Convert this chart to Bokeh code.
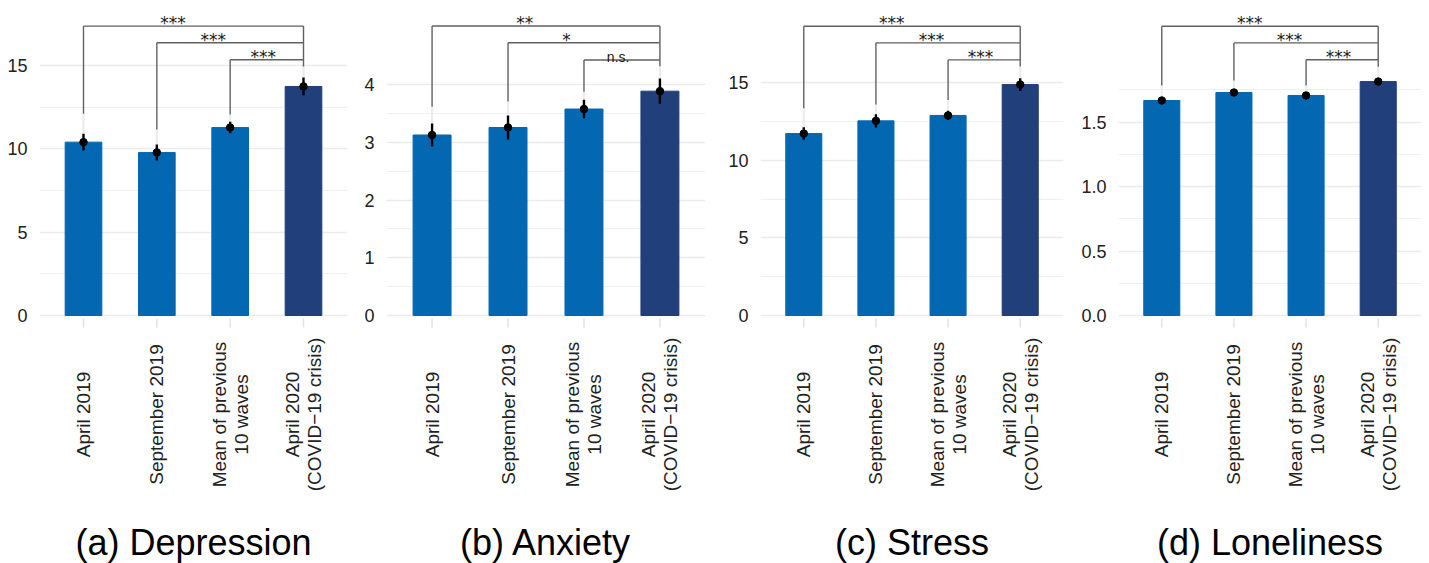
import numpy as np
from bokeh.plotting import figure
from bokeh.models import Range1d, FixedTicker, ColumnDataSource
from bokeh.layouts import row, column
from bokeh.embed import file_html
from bokeh.resources import INLINE
from bokeh.core.properties import value

# ---------------- data ----------------
categories = ["April 2019", "September 2019", "Mean of previous\n10 waves",
              "April 2020\n(COVID\u221219 crisis)"]
panel_titles = ["(a) Depression", "(b) Anxiety", "(c) Stress", "(d) Loneliness"]

dep_mean = [10.40, 9.78, 11.28, 13.74]
dep_ci = [0.50, 0.48, 0.35, 0.53]
anx_mean = [3.13, 3.26, 3.58, 3.89]
anx_ci = [0.20, 0.21, 0.16, 0.22]
str_mean = [11.73, 12.55, 12.90, 14.89]
str_ci = [0.40, 0.43, 0.30, 0.41]
lon_mean = [1.668, 1.730, 1.707, 1.815]
lon_ci = [0.010, 0.010, 0.008, 0.010]

# significance brackets: each compares bar i with the last bar
dep_sig = ["***", "***", "***"]
anx_sig = ["**", "*", "n.s."]
str_sig = ["***", "***", "***"]
lon_sig = ["***", "***", "***"]
dep_bracket = [17.36, 16.36, 15.34]
anx_bracket = [5.02, 4.73, 4.43]
str_bracket = [18.65, 17.58, 16.48]
lon_bracket = [2.244, 2.115, 1.984]
dep_tip = [12.10, 11.16, 12.06, 14.94]
anx_tip = [3.62, 3.71, 3.88, 4.32]
str_tip = [13.37, 13.60, 13.90, 16.05]
lon_tip = [1.784, 1.823, 1.784, 1.930]
sig_label_x = [2.22, 2.77, 3.45]

dep_ticks = [0, 5, 10, 15]
anx_ticks = [0, 1, 2, 3, 4]
str_ticks = [0, 5, 10, 15]
lon_ticks = [0.0, 0.5, 1.0, 1.5]
dep_tick_labels = ["0", "5", "10", "15"]
anx_tick_labels = ["0", "1", "2", "3", "4"]
str_tick_labels = ["0", "5", "10", "15"]
lon_tick_labels = ["0.0", "0.5", "1.0", "1.5"]
dep_minor = [2.5, 7.5, 12.5]
anx_minor = [0.5, 1.5, 2.5, 3.5]
str_minor = [2.5, 7.5, 12.5]
lon_minor = [0.25, 0.75, 1.25, 1.75]

# ---------------- styling ----------------
BAR_COLORS = ["#0368b1", "#0368b1", "#0368b1", "#213f7a"]
FONT = "Liberation Sans"
TEXT_COLOR = "#222222"

# pixel layout: zero line at y=315 px, frame from 0 to 330 px
ZERO_PX = 315
FRAME_H = 330
LOWER_H = 233
panels = [
    dict(mean=dep_mean, ci=dep_ci, sig=dep_sig, br=dep_bracket, tip=dep_tip,
         ticks=dep_ticks, tlabels=dep_tick_labels, minor=dep_minor,
         ppu=16.67, fw=308, bl=39, brd=11),
    dict(mean=anx_mean, ci=anx_ci, sig=anx_sig, br=anx_bracket, tip=anx_tip,
         ticks=anx_ticks, tlabels=anx_tick_labels, minor=anx_minor,
         ppu=57.67, fw=319, bl=28, brd=8),
    dict(mean=str_mean, ci=str_ci, sig=str_sig, br=str_bracket, tip=str_tip,
         ticks=str_ticks, tlabels=str_tick_labels, minor=str_minor,
         ppu=15.51, fw=303, bl=47, brd=7),
    dict(mean=lon_mean, ci=lon_ci, sig=lon_sig, br=lon_bracket, tip=lon_tip,
         ticks=lon_ticks, tlabels=lon_tick_labels, minor=lon_minor,
         ppu=128.9, fw=303, bl=48, brd=0),
]

tops, bottoms = [], []
for i, d in enumerate(panels):
    x = np.arange(1, len(categories) + 1)
    mean = np.array(d["mean"])
    ci = np.array(d["ci"])
    tip = np.array(d["tip"])
    brh = np.array(d["br"])
    ppu = d["ppu"]
    y_start = -(FRAME_H - ZERO_PX) / ppu
    y_end = ZERO_PX / ppu

    p = figure(frame_width=d["fw"], frame_height=FRAME_H,
               min_border_left=d["bl"], min_border_right=d["brd"],
               min_border_top=0, min_border_bottom=0,
               x_range=Range1d(0.4, 4.6), y_range=Range1d(y_start, y_end),
               x_axis_type=None,
               output_backend="svg", toolbar_location=None, tools="")
    p.outline_line_color = None
    p.background_fill_color = "white"
    p.border_fill_color = "white"
    p.ygrid.grid_line_color = "#ebebeb"
    p.ygrid.grid_line_width = 1.6
    p.ygrid.minor_grid_line_color = "#f0f0f0"
    p.ygrid.minor_grid_line_width = 1.1

    p.yaxis.ticker = FixedTicker(ticks=d["ticks"], minor_ticks=d["minor"])
    p.yaxis.major_label_overrides = {float(t): l for t, l in zip(d["ticks"], d["tlabels"])}
    p.yaxis.major_tick_line_color = None
    p.yaxis.minor_tick_line_color = None
    p.yaxis.axis_line_color = None
    p.yaxis.major_label_text_font_size = "18px"
    p.yaxis.major_label_text_font = FONT
    p.yaxis.major_label_text_color = TEXT_COLOR
    p.yaxis.major_label_standoff = 6

    # x tick marks (3 px to 12 px below the zero line)
    p.segment(x0=x, y0=[-3 / ppu] * len(x), x1=x, y1=[-12 / ppu] * len(x),
              line_color="#e3e3e3", line_width=1.5)

    # bars
    p.vbar(x=x, width=0.5, bottom=0, top=mean, color=BAR_COLORS)
    # light connector between bracket tips and error bars
    p.segment(x0=x, y0=tip, x1=x, y1=mean + ci, line_color="#ececec", line_width=2.2)
    # error bars and points
    p.segment(x0=x, y0=mean - ci, x1=x, y1=mean + ci, line_color="black", line_width=2.4)
    p.scatter(x=x, y=mean, size=7.5, color="black")

    # brackets
    left = x[:3]
    last = x[-1]
    p.segment(x0=left, y0=brh, x1=[last] * 3, y1=brh, line_color="#616161", line_width=1.4)
    p.segment(x0=left, y0=brh, x1=left, y1=tip[:3], line_color="#616161", line_width=1.4)
    p.segment(x0=[last], y0=[brh.max()], x1=[last], y1=[tip[-1]], line_color="#616161", line_width=1.4)

    fonts = ["DejaVu Sans" if set(s) == {"*"} else FONT for s in d["sig"]]
    sizes = ["17px" if set(s) == {"*"} else "14px" for s in d["sig"]]
    src = ColumnDataSource(dict(x=sig_label_x, y=list(brh), text=d["sig"], font=fonts, size=sizes))
    p.text(x="x", y="y", text="text", source=src, text_font="font", text_font_size="size",
           text_align="center", text_baseline="alphabetic", y_offset=-3, text_color="#1a1a1a")

    # lower area: rotated category labels and panel caption
    q = figure(frame_width=d["fw"], frame_height=LOWER_H,
               min_border_left=d["bl"], min_border_right=d["brd"],
               min_border_top=0, min_border_bottom=0,
               x_range=p.x_range, y_range=Range1d(0, LOWER_H),
               x_axis_type=None, y_axis_type=None,
               output_backend="svg", toolbar_location=None, tools="")
    q.outline_line_color = None
    q.background_fill_color = "white"
    q.border_fill_color = "white"
    q.text(x=x, y=[149] * len(x), text=categories, angle=np.pi / 2,
           text_align="center", text_baseline="middle",
           text_font=value(FONT), text_font_size="19px", text_color=TEXT_COLOR,
           text_line_height=1.05)
    q.text(x=[x.mean()], y=[21], text=[panel_titles[i]],
           text_align="center", text_baseline="alphabetic",
           text_font=value(FONT), text_font_size="36px", text_color="black")

    tops.append(p)
    bottoms.append(q)

layout = column(row(*tops), row(*bottoms))
open("out.html", "w").write(file_html(layout, INLINE))
